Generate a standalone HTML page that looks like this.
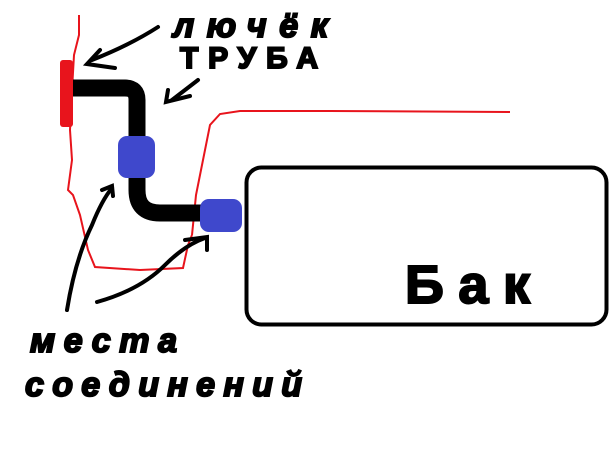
<!DOCTYPE html>
<html><head><meta charset="utf-8"><style>html,body{margin:0;padding:0;background:#fff}svg{display:block}</style></head>
<body>
<svg width="614" height="460" viewBox="0 0 614 460" xmlns="http://www.w3.org/2000/svg">
<rect width="614" height="460" fill="#fff"/>
<path d="M79,15 L79,35 L74,55 L72,90 L70,130 L72,160 L68,190 L73,195 L80,215 L88,250 L95,267 L140,270 L183,268 L188,245 L192,235" fill="none" stroke="#e8141c" stroke-width="2"/>
<path d="M192,235 L196,195 L203,160 L210,125 L220,114 L240,111 L330,111 L510,112" fill="none" stroke="#e8141c" stroke-width="2"/>
<rect x="60" y="60" width="13" height="67" rx="3" fill="#e8141c"/>
<path d="M73,88 L125,88 Q137,88 137,100 L137,190 Q137,213 160,213 L205,213" fill="none" stroke="#000" stroke-width="17"/>
<rect x="118" y="136" width="37" height="42" rx="9" fill="#3f48cc"/>
<rect x="200" y="199" width="42" height="33" rx="9" fill="#3f48cc"/>
<rect x="246.5" y="167.5" width="360" height="157" rx="15" fill="#fff" stroke="#000" stroke-width="4"/>
<g font-family="Liberation Sans, sans-serif" font-weight="bold" fill="#000" stroke="#000" stroke-width="2">
<text x="405" y="303" font-size="54" textLength="125">Бак</text>
<text x="173" y="37" font-size="34" font-style="italic" textLength="155">лючёк</text>
<text x="180" y="68" font-size="30" textLength="138">ТРУБА</text>
<text x="30" y="352" font-style="italic" font-size="34" textLength="147">места</text>
<text x="25" y="396" font-style="italic" font-size="34" textLength="277">соединений</text>
</g>
<g fill="none" stroke="#000" stroke-width="4" stroke-linecap="round">
<path d="M158,27 Q130,45 92,60"/><path d="M100,50 L87,64 L115,68"/>
<path d="M198,80 L172,100"/><path d="M168,90 L166,102 L190,96"/>
<path d="M67,310 Q75,260 92,225 Q102,200 112,188"/><path d="M102,190 L112,186 L113,196"/>
<path d="M97,302 Q140,290 165,265 Q185,245 205,238"/><path d="M185,240 L207,237 L207,250"/>
</g>
</svg>
</body></html>
